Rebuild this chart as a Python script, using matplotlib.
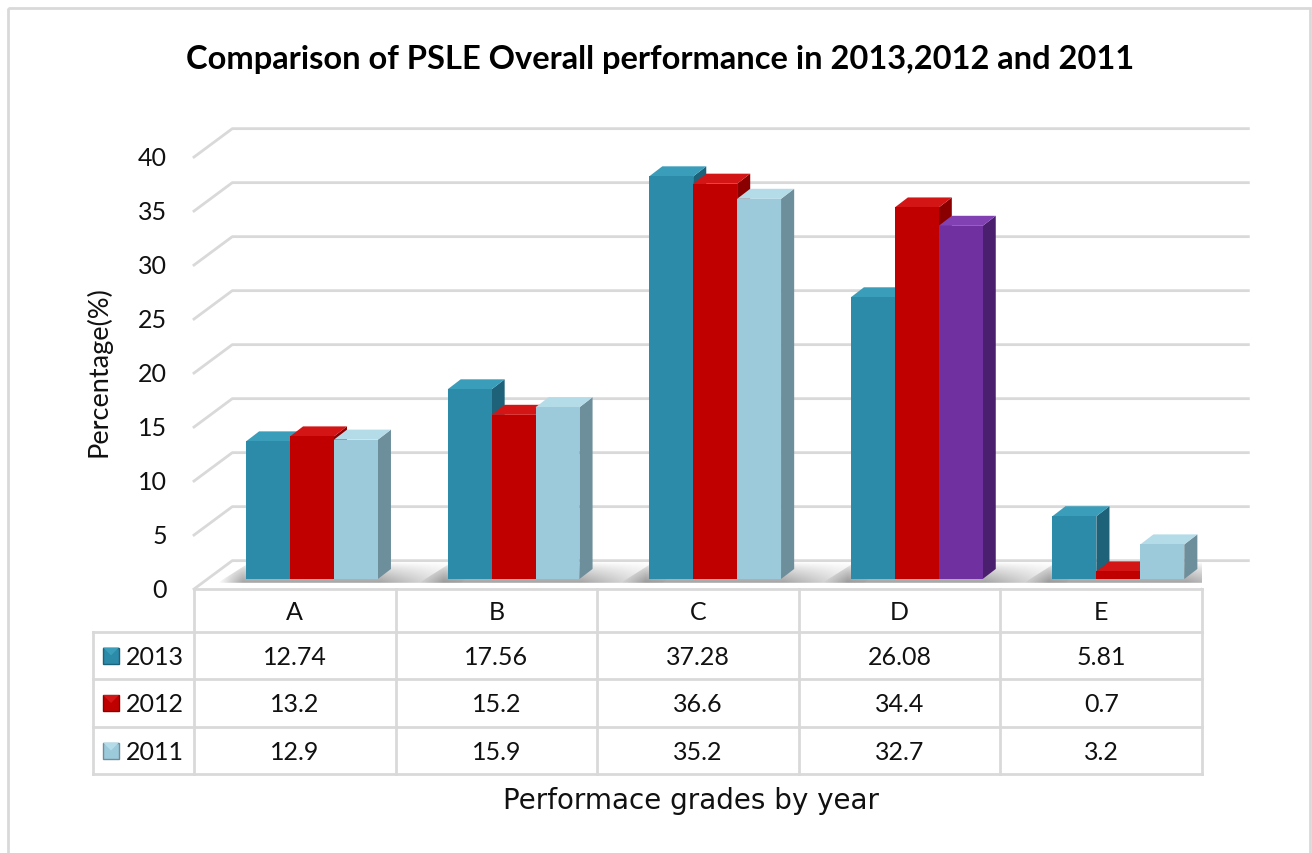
import numpy as np
import matplotlib.pyplot as plt
from matplotlib.patches import Polygon, Rectangle

# data
grades = ["A", "B", "C", "D", "E"]
years = ["2013", "2012", "2011"]
v2013 = [12.74, 17.56, 37.28, 26.08, 5.81]
v2012 = [13.2, 15.2, 36.6, 34.4, 0.7]
v2011 = [12.9, 15.9, 35.2, 32.7, 3.2]
series = [v2013, v2012, v2011]
ticks = [0, 5, 10, 15, 20, 25, 30, 35, 40]

front_c = ["#2b8ba9", "#c00000", "#9ccadb"]
side_c = ["#1d6279", "#8a0000", "#6d8e9b"]
top_c = ["#3a9dba", "#d31515", "#b4dbe8"]
# highlighted point (D, 2011)
hi = (2, 3)
hi_front, hi_side, hi_top = "#7030a0", "#4a1f6d", "#8241b3"

W, H = 1312, 854
fig = plt.figure(figsize=(W / 100, H / 100), dpi=100)
fig.patch.set_facecolor("white")

# pixel overlay for frame, table and titles
bg = fig.add_axes([0, 0, 1, 1])
bg.set_xlim(0, W)
bg.set_ylim(H, 0)
bg.axis("off")
bg.add_patch(Rectangle((8, 9), 1302, 850, fill=False, ec="#d9d9d9", lw=2))

# main plot axes: x=-0.5 at px 194, x=4.5 at px 1202, y=0 at px 580, 10.8 px/unit
x0px, x1px = 194, 1202
y0px, ppu = 580, 10.8
ylo, yhi = -1.0, 43.0
ax = fig.add_axes([x0px / W, (H - (y0px + ppu * (-ylo))) / H,
                   (x1px - x0px) / W, (yhi - ylo) * ppu / H])
ax.set_xlim(-0.5, 4.5)
ax.set_ylim(ylo, yhi)
ax.axis("off")

# perspective constants
front_dy = -0.93
back_dy = 1.7
back_x0, back_x1 = -0.31, 4.73
grid_c = "#d9d9d9"

for t in ticks:
    ax.plot([-0.5, back_x0, back_x1], [t + front_dy, t + back_dy, t + back_dy],
            color=grid_c, lw=2, zorder=1, clip_on=False)
    ax.text(-0.5 - 27 / 201.6, t + front_dy, str(t), ha="right", va="center",
            fontsize=18, family="Lato", color="#111111")
ax.plot([4.5, back_x1], [front_dy, back_dy], color=grid_c, lw=2, zorder=1)

# soft floor shadows under each group
bw = 0.218
off = 0.085
dx, dy = 0.065, 0.93
xc = np.arange(len(grades))
gx = np.linspace(0, 1, 200)
gy = np.linspace(0, 1, 40)
GX, GY = np.meshgrid(gx, gy)
for i in xc:
    gl = i + off - 1.5 * bw
    gr = i + off + 1.5 * bw + dx
    sx0, sx1 = gl - 0.14, gr + 0.45
    sy0, sy1 = -0.35, 1.55
    xx = sx0 + GX * (sx1 - sx0)
    fade = np.clip((sx1 - xx) / (sx1 - gr + 0.05), 0, 1) ** 1.3
    fade *= np.clip((xx - sx0) / 0.12, 0, 1)
    alpha = 0.55 * fade * (1 - GY) ** 0.8
    img = np.zeros((len(gy), len(gx), 4))
    img[..., :3] = 0.35
    img[..., 3] = alpha
    im = ax.imshow(img, extent=[sx0, sx1, sy0, sy1], origin="lower",
                   aspect="auto", zorder=2, interpolation="bilinear")
    clip = Polygon([(sx0, sy0), (sx1 - 0.1, sy0), (sx1, sy1), (sx0 + 0.16, sy1)],
                   closed=True, transform=ax.transData, fc="none", ec="none")
    im.set_clip_path(clip)

for j, vals in enumerate(series):
    xs = xc + off + (j - 1) * bw
    fcs = [front_c[j]] * len(vals)
    if j == hi[0]:
        fcs[hi[1]] = hi_front
    ax.bar(xs, vals, width=bw, color=fcs, edgecolor="none", zorder=4 + j * 2)
    for i, (x, v) in enumerate(zip(xs, vals)):
        sc, tc = side_c[j], top_c[j]
        if j == hi[0] and i == hi[1]:
            sc, tc = hi_side, hi_top
        xl, xr = x - bw / 2, x + bw / 2
        ax.add_patch(Polygon([(xr, 0), (xr, v), (xr + dx, v + dy), (xr + dx, dy)],
                             closed=True, fc=sc, ec="none", zorder=3 + j * 2))
        ax.add_patch(Polygon([(xl, v), (xl + dx, v + dy), (xr + dx, v + dy), (xr, v)],
                             closed=True, fc=tc, ec="none", zorder=3 + j * 2))

# data table
col_x = np.linspace(194, 1202, len(grades) + 1)
row_y = [590, 633, 680, 728, 775]
leg_l = 93
lc = "#d9d9d9"
bg.plot([col_x[0], col_x[-1]], [row_y[0], row_y[0]], color=lc, lw=2)
for y in row_y[1:]:
    bg.plot([leg_l, col_x[-1]], [y, y], color=lc, lw=2)
for x in col_x:
    bg.plot([x, x], [row_y[0], row_y[-1]], color=lc, lw=2)
bg.plot([leg_l, leg_l], [row_y[1], row_y[-1]], color=lc, lw=2)

tfont = dict(fontsize=18, family="Lato", color="#111111")
for i, g in enumerate(grades):
    cx = (col_x[i] + col_x[i + 1]) / 2
    bg.text(cx, (row_y[0] + row_y[1]) / 2 + 1, g, ha="center", va="center", **tfont)
    for j, vals in enumerate(series):
        bg.text(cx, (row_y[j + 1] + row_y[j + 2]) / 2 + 1, f"{vals[i]:g}",
                ha="center", va="center", **tfont)
for j, yr in enumerate(years):
    cy = (row_y[j + 1] + row_y[j + 2]) / 2
    bg.add_patch(Rectangle((103, cy - 8), 16, 16, fc=front_c[j], ec=side_c[j], lw=1))
    bg.add_patch(Polygon([(103, cy - 8), (119, cy - 8), (111, cy)], closed=True,
                         fc=top_c[j], ec="none"))
    bg.text(126, cy + 1, yr, ha="left", va="center", **tfont)

# titles
bg.text(660, 60, "Comparison of PSLE Overall performance in 2013,2012 and 2011",
        ha="center", va="center", fontsize=23.5, fontweight="bold", family="Lato",
        color="#000000")
bg.text(98, 372, "Percentage(%)", ha="center", va="center", rotation=90,
        fontsize=19.5, family="Lato", color="#111111")
bg.text(691, 801, "Performace grades by year", ha="center", va="center",
        fontsize=20, family="DejaVu Sans", color="#111111")

fig.savefig("out.png", dpi=100, facecolor="white")
